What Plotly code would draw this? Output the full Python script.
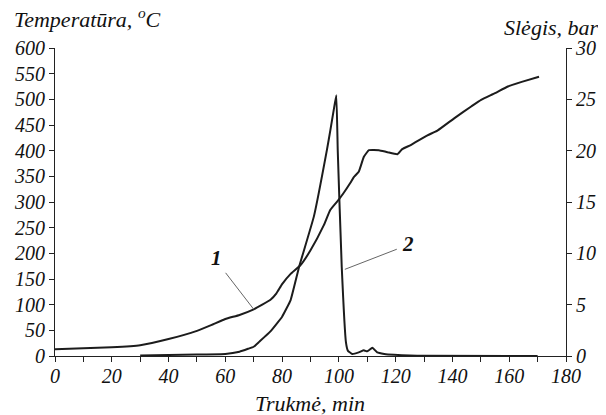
import plotly.graph_objects as go

# Curve 1: temperature (°C) vs time (min)
time_temp = [0, 10, 20, 30, 40, 50, 55, 60, 65, 70, 73, 76, 78, 80, 83, 86.5, 90, 94.7, 97, 100,
             101.6, 104, 105.2, 107, 108.8, 110.6, 114.1, 117.1, 120.6, 122.3, 125.3, 131.2, 134.7,
             140.6, 146.6, 150.1, 155, 159.5, 164.4, 170.5]
temperature = [13, 15, 17, 21, 33, 49, 60, 72, 80, 91, 100, 110, 122, 140, 160, 177, 206, 255, 285, 305,
               317, 337, 348, 359, 388, 401, 401, 397, 393, 403, 411, 430, 439,
               463, 486, 499, 512, 525, 534, 544]

# Curve 2: pressure (bar) vs time (min)
time_pres = [30, 40, 50, 60, 65, 68, 70, 72, 75.8, 80, 83, 86, 91.2, 95.8, 97, 98.2, 99.1, 99.6,
             101, 102.5, 103.2, 104.7, 107, 108.8, 110, 111.8, 113.5, 116, 119.4, 125, 130, 170]
pressure = [0.05, 0.1, 0.15, 0.2, 0.42, 0.7, 0.9, 1.4, 2.37, 3.83, 5.45, 8.7, 13.6, 20.1, 22, 24, 25.4, 20,
            8.7, 1.3, 0.5, 0.2, 0.35, 0.55, 0.45, 0.8, 0.35, 0.2, 0.12, 0.05, 0.02, 0]

x_ticks = [0, 20, 40, 60, 80, 100, 120, 140, 160, 180]
y_ticks = [0, 50, 100, 150, 200, 250, 300, 350, 400, 450, 500, 550, 600]
y2_ticks = [0, 5, 10, 15, 20, 25, 30]

FONT = "Liberation Serif"
LINE = "#1c1c1c"
TXT = "#111111"

fig = go.Figure()
fig.add_trace(go.Scatter(x=time_temp, y=temperature, mode="lines",
                         line=dict(color=LINE, width=2, shape="spline", smoothing=0.4),
                         showlegend=False, hoverinfo="skip"))
fig.add_trace(go.Scatter(x=time_pres, y=pressure, mode="lines", yaxis="y2",
                         line=dict(color=LINE, width=2, shape="spline", smoothing=0.3),
                         showlegend=False, hoverinfo="skip"))

tickfont = dict(family=FONT, size=20, color=TXT, style="italic")

# page body adds an 8px offset, so the figure is 8px smaller and margins shifted
fig.update_layout(
    width=598, height=407,
    margin=dict(l=47, r=40, t=40, b=59, autoexpand=False),
    paper_bgcolor="white", plot_bgcolor="white",
    xaxis=dict(range=[0, 180], tickvals=x_ticks, ticks="outside", ticklen=5, tickcolor="#222",
               showline=True, linecolor="#222", linewidth=1, showgrid=False, zeroline=False,
               tickfont=tickfont, automargin=False, ticklabelstandoff=-3,
               minor=dict(dtick=10, ticks="outside", ticklen=5, tickcolor="#222", showgrid=False)),
    yaxis=dict(range=[0, 600], tickvals=y_ticks, ticks="outside", ticklen=5, tickcolor="#222",
               showline=True, linecolor="#222", linewidth=1, showgrid=False, zeroline=False,
               tickfont=tickfont, automargin=False),
    yaxis2=dict(range=[0, 30], tickvals=y2_ticks, ticks="outside", ticklen=5, tickcolor="#222",
                overlaying="y", side="right", automargin=False,
                showline=True, linecolor="#222", linewidth=1, showgrid=False, zeroline=False,
                tickfont=tickfont),
)

annfont = dict(family=FONT, size=22, color=TXT, style="italic")
fig.add_annotation(xref="paper", yref="paper", x=-0.085, y=1.097, xanchor="left", yanchor="middle",
                   text="Temperatūra, <sup>o</sup>C", showarrow=False, font=annfont)
fig.add_annotation(xref="paper", yref="paper", x=0.875, y=1.065, xanchor="left", yanchor="middle",
                   text="Slėgis, bar", showarrow=False, font=annfont)
fig.add_annotation(xref="paper", yref="paper", x=0.4985, y=-0.1526, xanchor="center", yanchor="middle",
                   text="Trukmė, min", showarrow=False, font=annfont)

# Leader lines
fig.add_shape(type="line", xref="x", yref="y", x0=60.1, y0=162, x1=70, y1=91,
              line=dict(color="#666666", width=1))
fig.add_shape(type="line", xref="x", yref="y2", x0=120.4, y0=10.4, x1=102.1, y1=8.44,
              line=dict(color="#666666", width=1))
# Labels
fig.add_annotation(x=57, y=191, xref="x", yref="y", text="<b>1</b>", showarrow=False,
                   font=dict(family=FONT, size=21, color=TXT, style="italic"))
fig.add_annotation(x=124.3, y=10.9, xref="x", yref="y2", text="<b>2</b>", showarrow=False,
                   font=dict(family=FONT, size=21, color=TXT, style="italic"))

fig.write_html("out.html")
